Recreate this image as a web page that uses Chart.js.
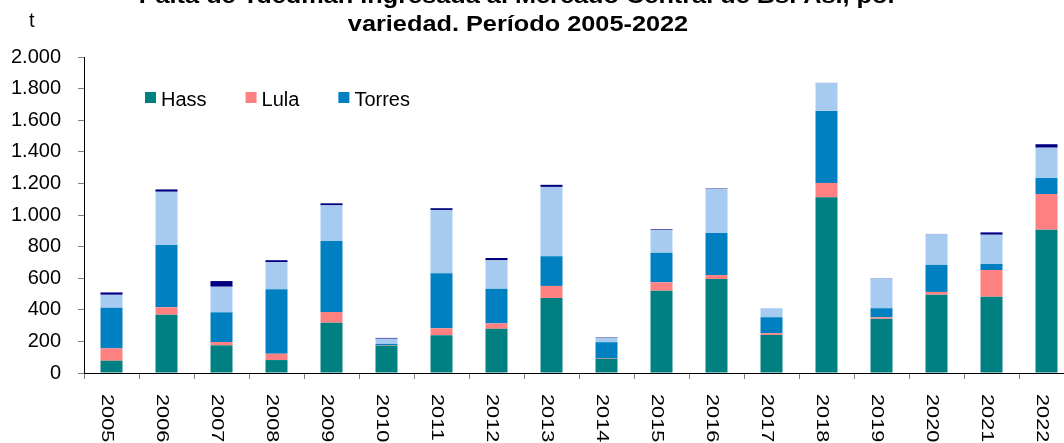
<!DOCTYPE html>
<html>
<head>
<meta charset="utf-8">
<script src="https://cdn.jsdelivr.net/npm/chart.js@4.4.1/dist/chart.umd.min.js"></script>
<style>
  html, body { margin: 0; padding: 0; background: #fff; overflow: hidden; }
  #wrap { width: 1080px; height: 443px; position: relative; }
</style>
</head>
<body>
<div id="wrap"><canvas id="grafico" width="1080" height="443"></canvas></div>
<script>
// datos (t)
const anios = ['2005','2006','2007','2008','2009','2010','2011','2012','2013','2014','2015','2016','2017','2018','2019','2020','2021','2022'];
const hass   = [78, 369, 175, 82, 318, 173, 239, 280, 475, 91, 521, 595, 241, 1112, 344, 496, 483, 907];
const lula   = [78, 47, 21, 40, 68, 3, 44, 34, 76, 4, 53, 25, 11, 91, 9, 17, 169, 226];
const torres = [257, 394, 188, 408, 449, 8, 348, 219, 188, 100, 187, 266, 101, 456, 57, 171, 38, 101];
const otras  = [82, 337, 162, 171, 226, 33, 401, 180, 439, 28, 143, 280, 57, 175, 188, 194, 185, 192];
const sinDato = [15, 15, 36, 13, 13, 5, 11, 15, 13, 3, 5, 3, 0, 2, 2, 2, 15, 22];

const titulo = ['Palta de Tucumán ingresada al Mercado Central de Bs. As., por', 'variedad. Período 2005-2022'];
const yTicks = [0, 200, 400, 600, 800, 1000, 1200, 1400, 1600, 1800, 2000];

const fuente = '"Liberation Sans", Arial, sans-serif';

function miles(v) {
    return String(v).replace(/\B(?=(\d{3})+(?!\d))/g, '.');
}

// titulo, unidad, leyenda y etiquetas del eje x dibujadas a mano
const extras = {
    id: 'extras',
    afterDraw(chart) {
        const ctx = chart.ctx;
        const area = chart.chartArea;
        const xs = chart.scales.x;
        ctx.save();
        ctx.fillStyle = '#000';

        // titulo
        ctx.font = 'bold 22px ' + fuente;
        ctx.textAlign = 'center';
        ctx.textBaseline = 'alphabetic';
        titulo.forEach((linea, i) => {
            ctx.save();
            ctx.translate(518, 3 + i * 28);
            ctx.scale(1.15, 1);
            ctx.fillText(linea, 0, 0);
            ctx.restore();
        });

        // unidad
        ctx.font = '20px ' + fuente;
        ctx.textAlign = 'left';
        ctx.fillText('t', 29, 27);

        // leyenda (solo las tres primeras series)
        let lx = area.left + 61;
        chart.data.datasets.slice(0, 3).forEach(ds => {
            ctx.fillStyle = ds.backgroundColor;
            ctx.fillRect(lx, 92, 11, 11);
            ctx.fillStyle = '#000';
            ctx.fillText(ds.label, lx + 16, 106);
            lx += 16 + ctx.measureText(ds.label).width + 39;
        });

        // etiquetas del eje x, giradas 90 grados
        ctx.font = '15px ' + fuente;
        anios.forEach((a, i) => {
            const x = xs.getPixelForValue(i);
            ctx.save();
            ctx.translate(x - 10, 394);
            ctx.rotate(Math.PI / 2);
            ctx.scale(1.45, 1.05);
            ctx.fillText(a, 0, 0);
            ctx.restore();
        });
        ctx.restore();
    }
};

const ctx = document.getElementById('grafico').getContext('2d');
new Chart(ctx, {
    type: 'bar',
    data: {
        labels: anios,
        datasets: [
            { label: 'Hass', data: hass, backgroundColor: '#008080' },
            { label: 'Lula', data: lula, backgroundColor: '#FF8080' },
            { label: 'Torres', data: torres, backgroundColor: '#0080C0' },
            { label: 'Otras', data: otras, backgroundColor: '#A6CAF0' },
            { label: 'Sin dato', data: sinDato, backgroundColor: '#000080' }
        ]
    },
    options: {
        responsive: false,
        animation: false,
        devicePixelRatio: 1,
        layout: { padding: { top: 57, left: 11, right: 6, bottom: 64 } },
        datasets: {
            bar: { categoryPercentage: 1, barPercentage: 0.4, borderWidth: 0 }
        },
        plugins: {
            legend: { display: false },
            title: { display: false },
            tooltip: { enabled: false }
        },
        scales: {
            x: {
                stacked: true,
                grid: { drawOnChartArea: false, tickLength: 6, color: '#808080', offset: true },
                border: { color: '#000', width: 1 },
                ticks: { display: false }
            },
            y: {
                stacked: true,
                min: 0,
                max: 2000,
                afterBuildTicks: s => { s.ticks = yTicks.map(v => ({ value: v })); },
                afterFit: s => { s.width = 73; },
                grid: { drawOnChartArea: false, tickLength: 6, color: '#808080' },
                border: { color: '#000', width: 1 },
                ticks: {
                    color: '#000',
                    padding: 17,
                    font: { family: fuente, size: 20 },
                    callback: v => miles(v)
                }
            }
        }
    },
    plugins: [extras]
});
</script>
</body>
</html>
